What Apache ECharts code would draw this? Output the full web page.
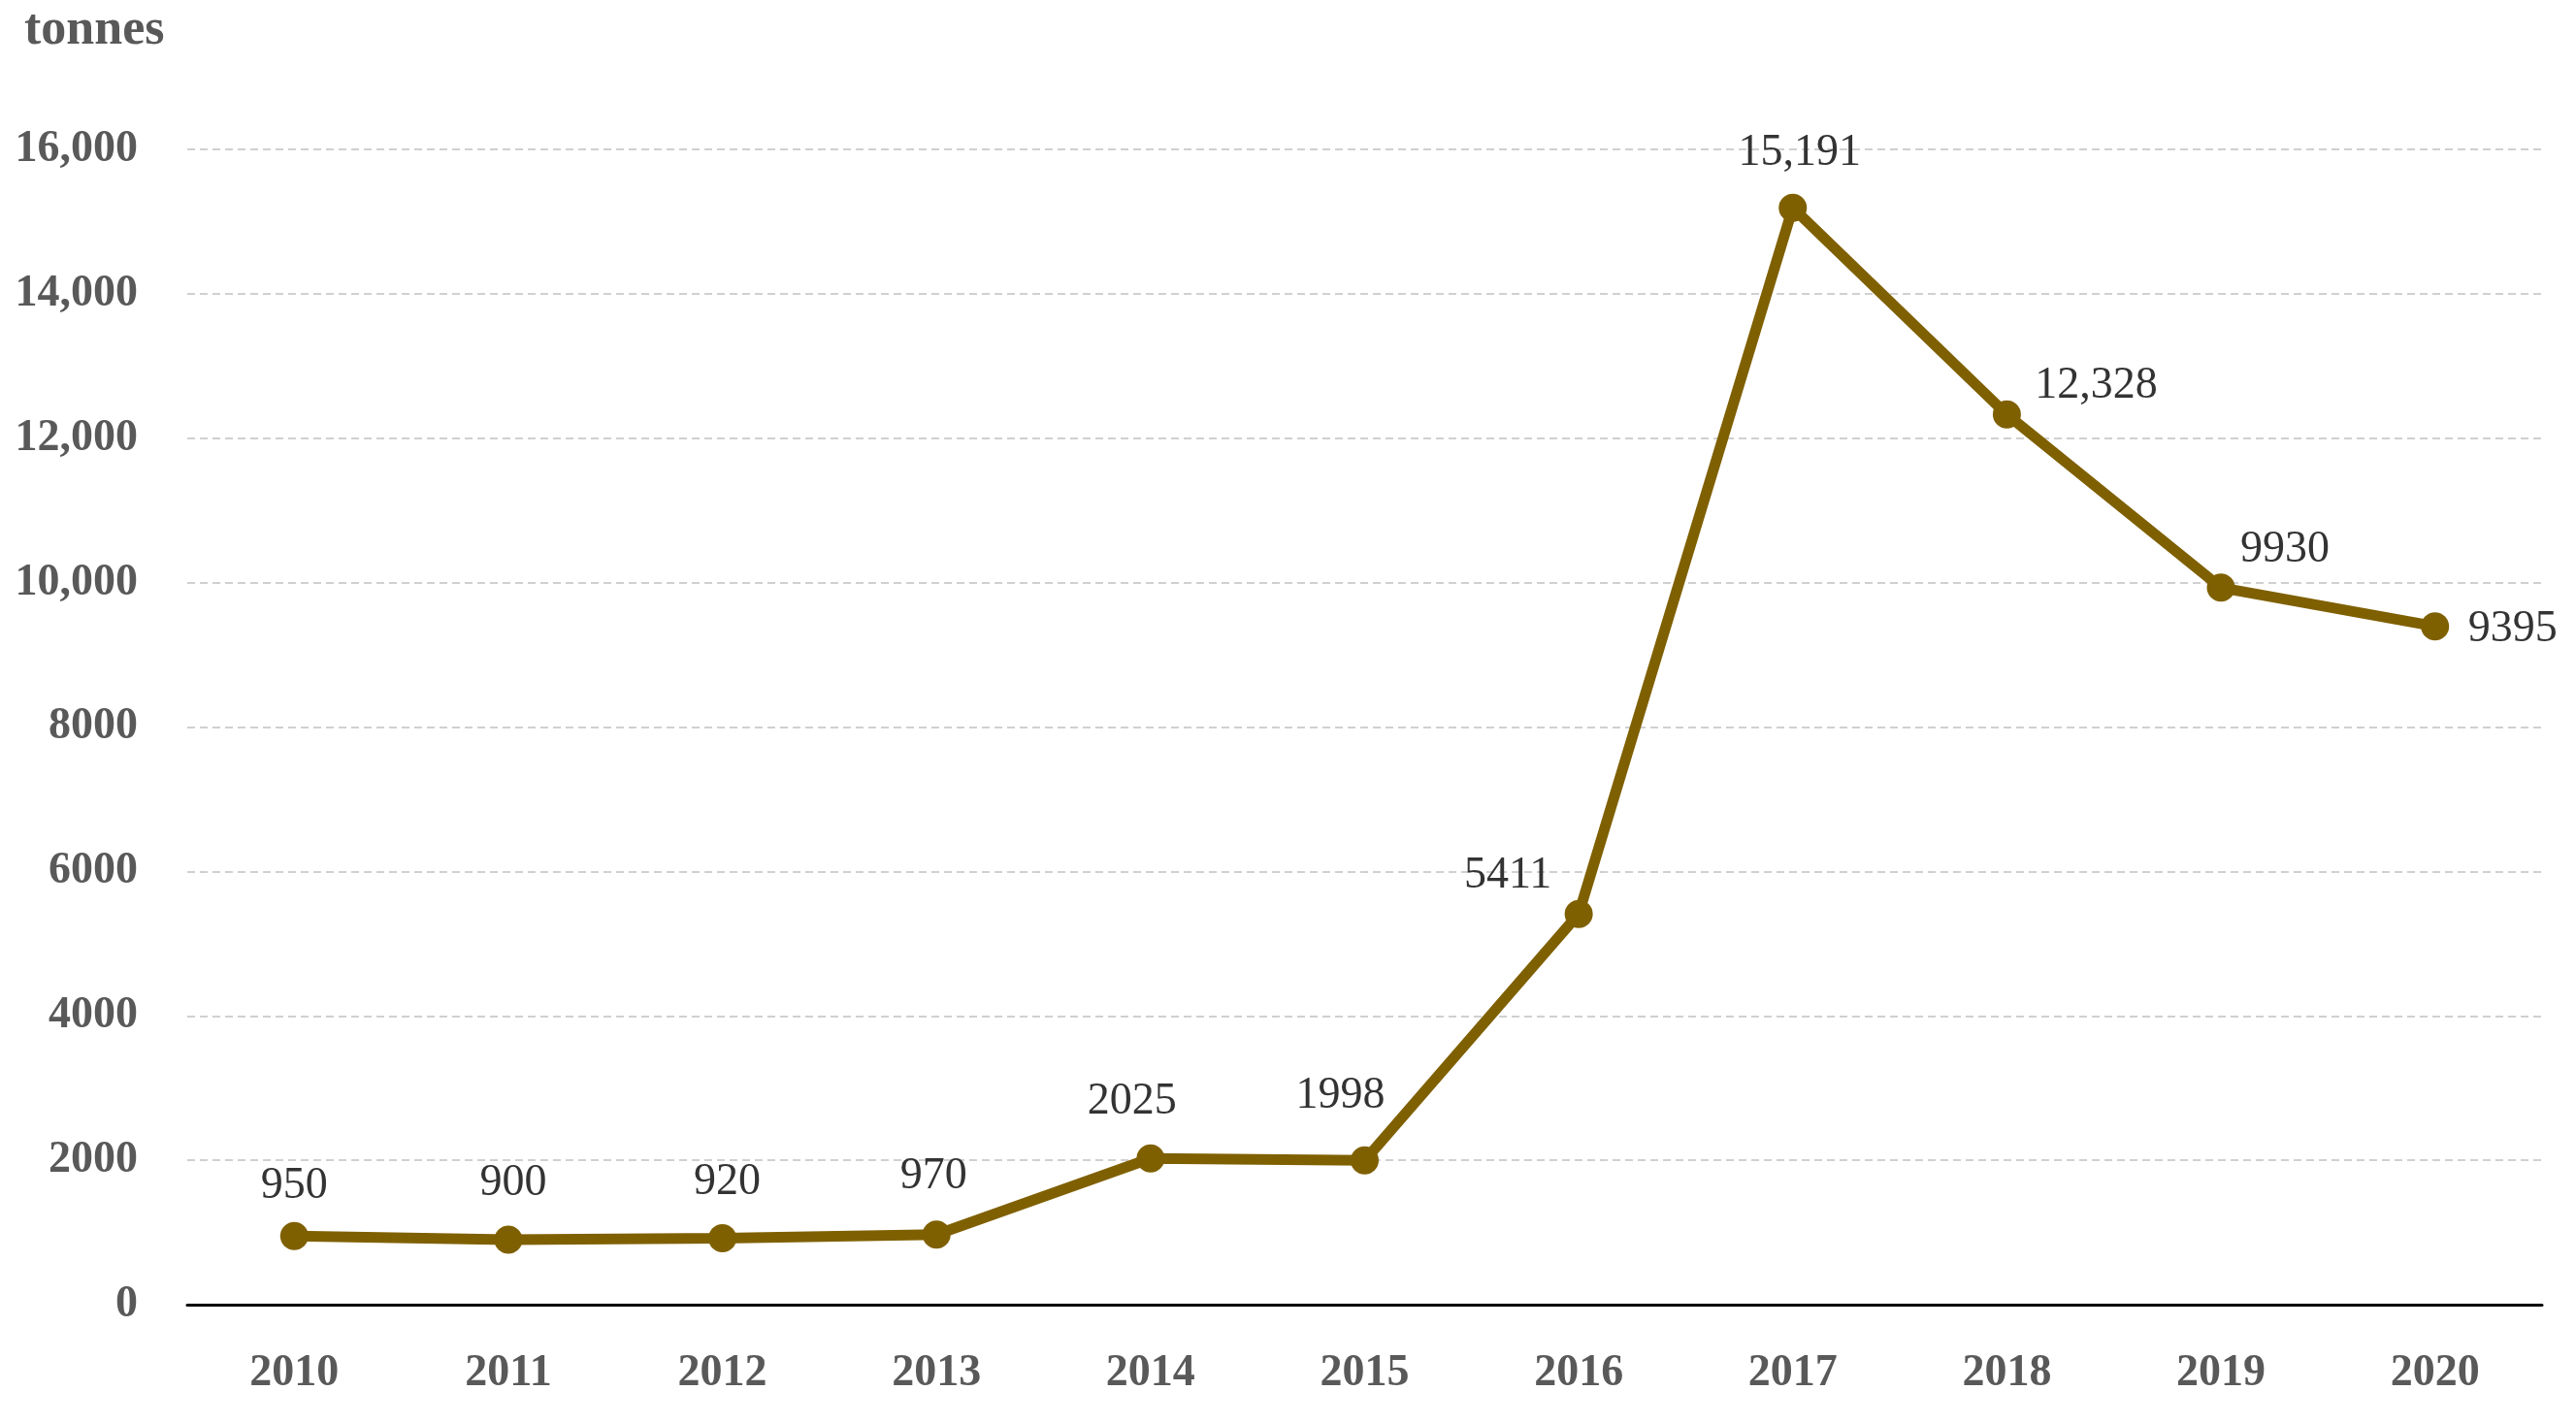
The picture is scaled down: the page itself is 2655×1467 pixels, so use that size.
<!DOCTYPE html>
<html>
<head>
<meta charset="utf-8">
<script src="https://cdn.jsdelivr.net/npm/echarts@6/dist/echarts.min.js"></script>
<style>
html,body{margin:0;padding:0;background:#fff;}
#chart{width:2655px;height:1467px;}
</style>
</head>
<body>
<div id="chart"></div>
<script>
const years = ['2010','2011','2012','2013','2014','2015','2016','2017','2018','2019','2020'];
const tonnes = [950, 900, 920, 970, 2025, 1998, 5411, 15191, 12328, 9930, 9395];
const dataLabels = ['950','900','920','970','2025','1998','5411','15,191','12,328','9930','9395'];
const yTickLabels = {0:'0',2000:'2000',4000:'4000',6000:'6000',8000:'8000',10000:'10,000',12000:'12,000',14000:'14,000',16000:'16,000'};

// label offsets (style only) relative to each point
const labelOffsets = [[0,-51],[5,-58],[5,-58],[-3,-60],[-19,-58],[-25,-66],[-73,-39],[7,-56],[92,-29],[66,-39],[80,3]];

const FONT = '"Liberation Serif", "DejaVu Serif", serif';
const chart = echarts.init(document.getElementById('chart'));
chart.setOption({
  backgroundColor: '#ffffff',
  animation: false,
  title: {
    text: 'tonnes', left: 25, top: 6, padding: 0,
    textStyle: {fontFamily: FONT, fontSize: 52, fontWeight: 'bold', color: '#595959'}
  },
  grid: {left: 193, right: 35, top: 154, bottom: 122, containLabel: false},
  xAxis: {
    type: 'category',
    data: years,
    boundaryGap: true,
    axisLine: {lineStyle: {color: '#000000', width: 3}},
    axisTick: {show: false},
    axisLabel: {fontFamily: FONT, fontSize: 46, fontWeight: 'bold', color: '#595959', margin: 48}
  },
  yAxis: {
    type: 'value',
    min: 0, max: 16000, interval: 2000,
    axisLine: {show: false},
    axisTick: {show: false},
    axisLabel: {
      fontFamily: FONT, fontSize: 46, fontWeight: 'bold', color: '#595959', margin: 51,
      formatter: v => yTickLabels[v] !== undefined ? yTickLabels[v] : String(v)
    },
    splitLine: {lineStyle: {color: '#d0d0d0', width: 2, type: [8, 5]}}
  },
  series: [{
    type: 'line',
    data: tonnes.map((v, i) => ({
      value: v,
      label: {offset: labelOffsets[i], formatter: dataLabels[i]}
    })),
    symbol: 'circle',
    symbolSize: 29,
    lineStyle: {color: '#7F6000', width: 11},
    itemStyle: {color: '#7F6000'},
    label: {
      show: true, position: 'inside',
      fontFamily: FONT, fontSize: 46, color: '#333333'
    }
  }]
});
</script>
</body>
</html>
